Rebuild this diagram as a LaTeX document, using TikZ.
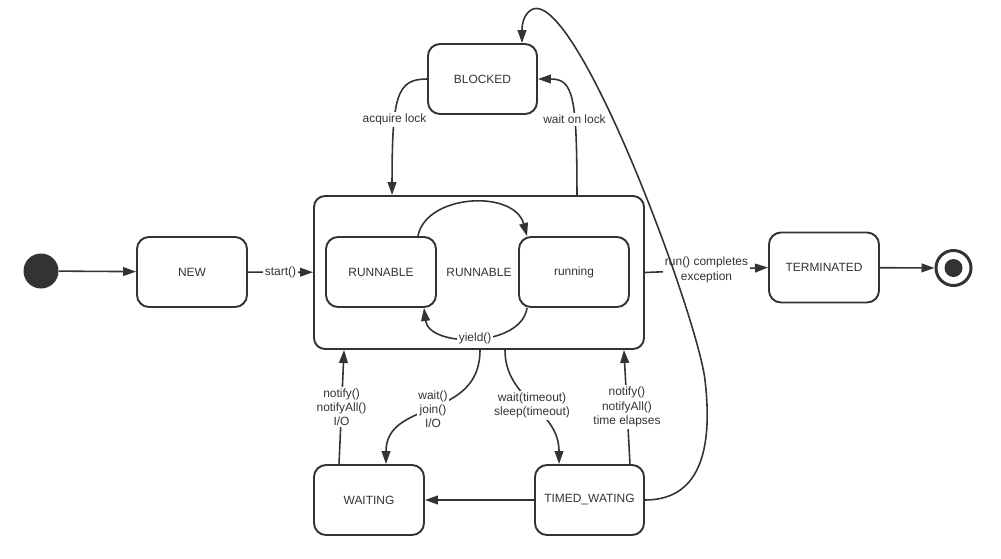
\documentclass[tikz,border=0pt]{standalone}
\usepackage{fontspec}
\setmainfont{Liberation Sans}
\usetikzlibrary{arrows.meta,positioning}
\definecolor{inkgray}{HTML}{333333}

\begin{document}
\begin{tikzpicture}[
    >={Triangle[length=7.4pt,width=5pt]},
    font=\fontsize{6.8}{8.1}\selectfont,
    text=inkgray,
    state/.style={draw=inkgray, line width=1.1pt, rounded corners=0.24cm, minimum width=2.2cm, minimum height=1.4cm, inner sep=2pt},
    trans/.style={inkgray, line width=0.9pt, ->},
    lbl/.style={fill=white, inner sep=1pt, align=center, text=inkgray},
    pseudo/.style={circle, inner sep=0pt, minimum size=0.7cm}
]
\useasboundingbox (0,0) rectangle (20.02,-11.16);

% -------- states --------
\node[pseudo, fill=inkgray] (init) at (0.82,-5.42) {};
\node[state] (new) at (3.84,-5.44) {NEW};
\node[state, minimum width=6.6cm, minimum height=3.06cm, rounded corners=0.22cm] (runnable) at (9.58,-5.45) {RUNNABLE};
\node[state] (ready) at (7.62,-5.44) {RUNNABLE};
\node[state] (running) at (11.48,-5.44) {running};
\node[state, minimum width=2.18cm] (blocked) at (9.65,-1.58) {BLOCKED};
\node[state] (terminated) at (16.48,-5.35) {TERMINATED};
\node[pseudo, draw=inkgray, line width=1.7pt] (final) at (19.07,-5.36) {};
\fill[inkgray] (final.center) circle (0.18);
\node[state] (waiting) at (7.38,-10.0) {WAITING};
\node[state, minimum width=2.18cm] (timed) at (11.79,-10.0) {TIMED\_WATING};

% -------- main line --------
\draw[trans] (init) -- (new);
\draw[trans] (new) -- node[lbl] {start()} (runnable);
\draw[trans] (runnable.east) -- node[lbl] {run() completes\\exception} (terminated.west);
\draw[trans] (terminated) -- (final);

% inside RUNNABLE
\draw[trans] ([xshift=-0.38cm]ready.north east) .. controls +(0.16,0.84) and +(-0.26,0.94) .. ([xshift=0.18cm]running.north west);
\draw[trans] ([xshift=0.18cm]running.south west) .. controls +(-0.12,-0.8) and +(0.1,-0.8) .. node[lbl] {yield()} ([xshift=-0.26cm]ready.south east);

% -------- BLOCKED --------
\draw[trans] (blocked.west) .. controls +(-0.6,0) and +(0,2.0) .. node[lbl, pos=0.66] {acquire lock} ([xshift=1.58cm]runnable.north west);
\draw[trans] ([xshift=-1.36cm]runnable.north east) .. controls +(0,2.0) and +(0.7,0) .. node[lbl, pos=0.34] {wait on lock} (blocked.east);

% -------- WAITING / TIMED_WATING --------
\draw[trans] ([xshift=0.52cm]waiting.north west) -- node[lbl] {notify()\\notifyAll()\\I/O} ([xshift=0.62cm]runnable.south west);
\draw[trans] ([xshift=0.02cm]runnable.south) .. controls +(0,-1.42) and +(0,1.3) .. node[lbl] {wait()\\join()\\I/O} ([xshift=0.34cm]waiting.north);
\draw[trans] ([xshift=0.52cm]runnable.south) .. controls +(0,-1.0) and +(0,1.1) .. node[lbl] {wait(timeout)\\sleep(timeout)} ([xshift=0.5cm]timed.north west);
\draw[trans] ([xshift=-0.3cm]timed.north east) -- node[lbl] {notify()\\notifyAll()\\time elapses} ([xshift=-0.42cm]runnable.south east);
\draw[trans] (timed) -- (waiting);

% long way round: TIMED_WATING back up to BLOCKED
\draw[trans] (timed.east) .. controls (14.1,-10) and (14.24,-8.8) .. (14.1,-7.6)
    .. controls (13.96,-6.4) and (11.8,-0.5) .. (10.8,-0.18)
    .. controls (10.62,-0.12) and (10.44,-0.3) .. ([xshift=0.79cm]blocked.north);

\end{tikzpicture}
\end{document}
